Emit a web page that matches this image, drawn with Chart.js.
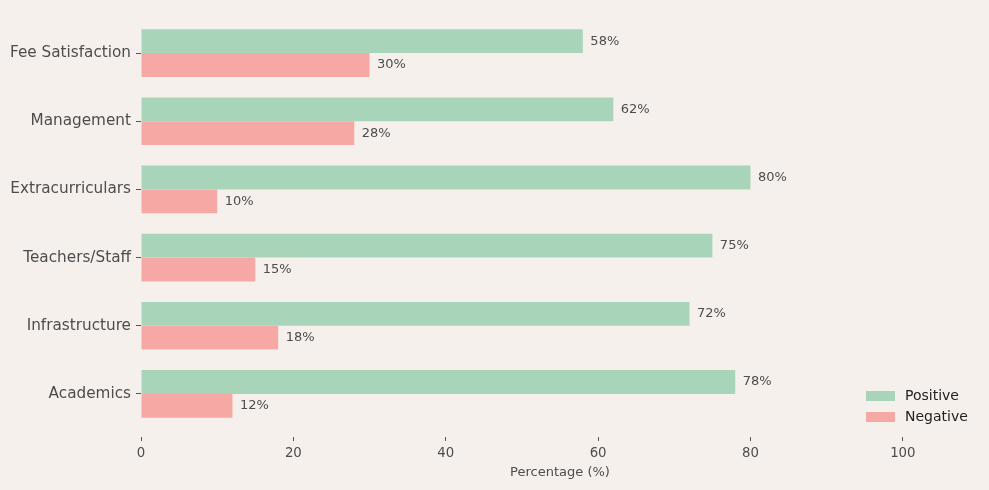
<!DOCTYPE html>
<html>
<head>
<meta charset="utf-8">
<script src="https://cdn.jsdelivr.net/npm/chart.js@4.4.1/dist/chart.umd.min.js"></script>
<style>
  html, body { margin: 0; padding: 0; background: #f5f0ec; }
  #wrap { width: 989px; height: 490px; position: relative; }
</style>
</head>
<body>
<div id="wrap"><canvas id="c" width="989" height="490"></canvas></div>
<script>
const categories = ["Fee Satisfaction", "Management", "Extracurriculars", "Teachers/Staff", "Infrastructure", "Academics"];
const positiveValues = [58, 62, 80, 75, 72, 78];
const negativeValues = [30, 28, 10, 15, 18, 12];
const xTickValues = [0, 20, 40, 60, 80, 100];
const seriesNames = ["Positive", "Negative"];

const TEXT = '#4d4d4d';
const FONT = "'DejaVu Sans', sans-serif";

const bgPlugin = {
  id: 'bg',
  beforeDraw(chart) {
    const ctx = chart.ctx;
    ctx.save();
    ctx.fillStyle = '#f5f0ec';
    ctx.fillRect(0, 0, chart.width, chart.height);
    ctx.restore();
  }
};

const valueLabels = {
  id: 'valueLabels',
  afterDatasetsDraw(chart) {
    const ctx = chart.ctx;
    ctx.save();
    ctx.font = '13px ' + FONT;
    ctx.fillStyle = TEXT;
    ctx.textAlign = 'left';
    ctx.textBaseline = 'middle';
    chart.data.datasets.forEach((ds, i) => {
      const meta = chart.getDatasetMeta(i);
      meta.data.forEach((bar, j) => {
        ctx.fillText(ds.data[j] + '%', bar.x + 7.5, bar.y);
      });
    });
    ctx.restore();
  }
};

const innerLegend = {
  id: 'innerLegend',
  afterDraw(chart) {
    const ctx = chart.ctx;
    const area = chart.chartArea;
    ctx.save();
    ctx.font = '14px ' + FONT;
    ctx.textBaseline = 'middle';
    ctx.textAlign = 'left';
    const n = chart.data.datasets.length;
    const rowH = 21;
    const boxW = 29, boxH = 10;
    const x0 = area.right - 113;
    const yStart = area.bottom - 11 - rowH * (n - 1);
    chart.data.datasets.forEach((ds, i) => {
      const y = yStart + i * rowH;
      ctx.fillStyle = ds.backgroundColor;
      ctx.fillRect(x0, y - boxH / 2, boxW, boxH);
      ctx.fillStyle = '#222';
      ctx.fillText(ds.label, x0 + 39, y);
    });
    ctx.restore();
  }
};

new Chart(document.getElementById('c'), {
  type: 'bar',
  data: {
    labels: categories,
    datasets: [
      { label: seriesNames[0], data: positiveValues, backgroundColor: '#a8d5ba', categoryPercentage: 0.7, barPercentage: 1.0 },
      { label: seriesNames[1], data: negativeValues, backgroundColor: '#f6a8a4', categoryPercentage: 0.7, barPercentage: 1.0 }
    ]
  },
  options: {
    indexAxis: 'y',
    responsive: false,
    animation: false,
    devicePixelRatio: 1,
    layout: { padding: { top: 19, right: 10, left: 0, bottom: 0 } },
    plugins: {
      legend: { display: false },
      tooltip: { enabled: false }
    },
    scales: {
      x: {
        type: 'linear',
        min: 0,
        max: 110,
        afterBuildTicks(scale) {
          scale.ticks = xTickValues.map(v => ({ value: v }));
        },
        afterFit(scale) { scale.height = 62; },
        border: { display: false },
        grid: {
          drawOnChartArea: false,
          drawTicks: true,
          tickLength: 13,
          tickColor: '#555',
          tickWidth: 1,
          tickBorderDash: [4, 9],
          tickBorderDashOffset: 4
        },
        ticks: {
          color: TEXT,
          font: { family: FONT, size: 13.3 },
          padding: 5,
          maxRotation: 0
        },
        title: {
          display: true,
          text: 'Percentage (%)',
          color: TEXT,
          font: { family: FONT, size: 13 },
          padding: { top: 0, bottom: 10 }
        }
      },
      y: {
        type: 'category',
        afterFit(scale) { scale.width = 141; },
        border: { display: false },
        grid: {
          drawOnChartArea: false,
          drawTicks: true,
          tickLength: 5,
          tickColor: '#555',
          offset: false
        },
        ticks: {
          color: TEXT,
          font: { family: FONT, size: 15.25 },
          padding: 5
        }
      }
    }
  },
  plugins: [bgPlugin, valueLabels, innerLegend]
});
</script>
</body>
</html>
